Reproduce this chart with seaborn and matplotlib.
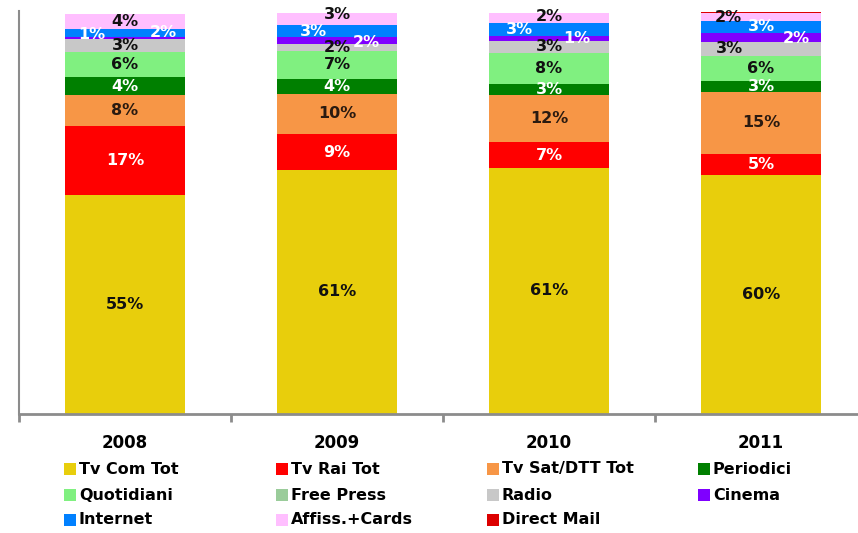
import numpy as np
import pandas as pd
import matplotlib
matplotlib.use("Agg")
import matplotlib.pyplot as plt
import seaborn as sns
from matplotlib.patches import Rectangle

# ---------------- data ----------------
years = ["2008", "2009", "2010", "2011"]
series = ["Tv Com Tot", "Tv Rai Tot", "Tv Sat/DTT Tot", "Periodici",
          "Quotidiani", "Free Press", "Radio", "Cinema", "Internet",
          "Affiss.+Cards", "Direct Mail"]

tv_com = [54.6, 60.6, 61.1, 59.6]
tv_rai = [17.2, 9.1, 6.6, 5.2]
tv_sat = [7.6, 10.1, 11.8, 15.4]
periodici = [4.4, 3.6, 2.6, 2.6]
quotidiani = [6.4, 7.1, 7.7, 6.4]
free_press = [0.0, 0.0, 0.0, 0.0]
radio = [3.2, 1.7, 3.2, 3.4]
cinema = [0.6, 1.6, 1.2, 2.4]
internet = [2.0, 3.0, 3.2, 2.8]
affissioni = [3.7, 3.2, 2.4, 2.1]
direct_mail = [0.0, 0.0, 0.0, 0.3]

values = [tv_com, tv_rai, tv_sat, periodici, quotidiani, free_press,
          radio, cinema, internet, affissioni, direct_mail]

# ---------------- style ----------------
colors = ["#E8CE0C", "#FF0000", "#F79646", "#007F00", "#80F080", "#9ACC9A",
          "#C8C8C8", "#7F00FF", "#0080FF", "#FFBFFF", "#DC0000"]
label_colors = ["#111111", "white", "#2a1a10", "white", "#111111", "#111111",
                "#111111", "white", "white", "#111111", "white"]
# label nudges (dx in category units, dy in percent) for crowded segments
nudges = {
    ("Cinema", 0): (-0.155, 0.75), ("Internet", 0): (0.18, 0.0),
    ("Affiss.+Cards", 1): (0.0, 1.1), ("Internet", 1): (-0.11, 0.0),
    ("Cinema", 1): (0.14, -0.4),
    ("Internet", 2): (-0.14, 0.0), ("Cinema", 2): (0.13, 0.0),
    ("Affiss.+Cards", 2): (0.0, 0.4),
    ("Affiss.+Cards", 3): (-0.155, 0.0), ("Cinema", 3): (0.165, -0.4),
    ("Radio", 3): (-0.15, 0.0),
}

sns.set_theme(style="white")
plt.rcParams["font.family"] = ["DejaVu Sans"]

W, H = 858, 533
fig = plt.figure(figsize=(W / 100, H / 100), dpi=100)
fig.patch.set_facecolor("white")
# axes spans 4 categories of 212 px starting at x=19 (extends past right edge)
ax = fig.add_axes([19 / W, (H - 413.5) / H, (4 * 212) / W, 402.2 / H])

vals = np.array(values)
cum = np.cumsum(vals, axis=0)

# draw cumulative totals from top series down so lower ones overlay
for k in range(len(series) - 1, -1, -1):
    df = pd.DataFrame({"year": years, "total": cum[k]})
    sns.barplot(data=df, x="year", y="total", color=colors[k], saturation=1,
                width=0.57, linewidth=0, ax=ax, order=years)

# data labels
for k, name in enumerate(series):
    for i in range(len(years)):
        v = vals[k, i]
        if v < 0.5:
            continue
        dx, dy = nudges.get((name, i), (0.0, 0.0))
        y = cum[k, i] - v / 2 + dy
        ax.text(i + dx, y, f"{v:.0f}%", ha="center", va="center",
                color=label_colors[k], fontsize=11.5, fontweight="bold")

ax.set_xlim(-0.5, 3.5)
ax.set_ylim(0, 100.3)
ax.set_xlabel("")
ax.set_ylabel("")
ax.set_yticks([])
ax.set_xticks(range(len(years)))
ax.set_xticklabels(years, fontsize=12, fontweight="bold", color="black")
ax.set_xticks([-0.5, 0.5, 1.5, 2.5, 3.5], minor=True)
ax.tick_params(axis="x", which="major", length=0, pad=15)
ax.tick_params(axis="x", which="minor", length=6, width=2, color="#8c8c8c",
               bottom=True)
for s in ["top", "right"]:
    ax.spines[s].set_visible(False)
ax.spines["bottom"].set_color("#8c8c8c")
ax.spines["bottom"].set_linewidth(2)
ax.spines["left"].set_color("#8c8c8c")
ax.spines["left"].set_linewidth(1.5)
ax.set_facecolor("white")
ax.grid(False)

# legend laid out as in the original (4 columns, row-major)
col_x = [64, 276, 487, 698]
row_y = [469, 495, 520]
for k, name in enumerate(series):
    r, c = divmod(k, 4)
    x0, yc = col_x[c], row_y[r]
    fig.patches.append(Rectangle((x0 / W, (H - yc - 6) / H), 12 / W, 12 / H,
                                 transform=fig.transFigure, facecolor=colors[k],
                                 edgecolor="none"))
    fig.text((x0 + 15) / W, (H - yc) / H, name, ha="left", va="center",
             fontsize=11.5, fontweight="bold", color="black")

fig.savefig("out.png", dpi=100, facecolor="white")
